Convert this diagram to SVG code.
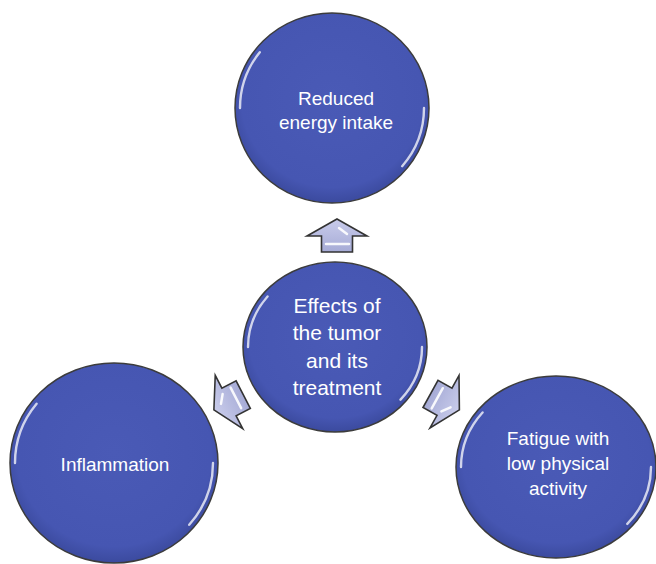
<svg xmlns="http://www.w3.org/2000/svg" width="656" height="564" viewBox="0 0 656 564">
<defs>
<radialGradient id="ballFill" cx="50%" cy="45%" r="55%">
<stop offset="0%" stop-color="#4a5ab6"/>
<stop offset="85%" stop-color="#4656b2"/>
<stop offset="100%" stop-color="#3b4a9e"/>
</radialGradient>
<linearGradient id="arrowFill" x1="0" y1="0" x2="0" y2="1">
<stop offset="0%" stop-color="#c9cceb"/>
<stop offset="100%" stop-color="#a6abd6"/>
</linearGradient>
<path id="arrowShape" d="M0,-17 L30,0 L15.5,0 L15.5,16 L-15.5,16 L-15.5,0 L-30,0 Z"/>
</defs>
<style>
.ball{fill:url(#ballFill);stroke:#3c3c3c;stroke-width:1.5}
.shine{fill:none;stroke:#ffffff;stroke-width:2.4;stroke-opacity:0.75;stroke-dasharray:40 140 38 142;stroke-linecap:round}
.arrow{fill:url(#arrowFill);stroke:#333333;stroke-width:1.6;stroke-linejoin:miter}
.hl{stroke:#ffffff;stroke-width:2.5;stroke-linecap:round;stroke-opacity:0.9}
.lbl{font-family:"Liberation Sans",Arial,sans-serif;font-size:19px;fill:#ffffff;text-anchor:middle}
.lblc{font-family:"Liberation Sans",Arial,sans-serif;font-size:21px;fill:#ffffff;text-anchor:middle}
</style>
<rect width="656" height="564" fill="#ffffff"/>
<g id="connectors">
<g transform="translate(337,236)">
<use href="#arrowShape" class="arrow"/>
<line class="hl" x1="2" y1="-8" x2="10" y2="-2"/>
<line class="hl" x1="-11" y1="8" x2="12" y2="8"/>
</g>
<g transform="translate(229,402) rotate(-117.3)">
<use href="#arrowShape" class="arrow"/>
<line class="hl" x1="2" y1="-8" x2="10" y2="-2"/>
<line class="hl" x1="-11" y1="8" x2="12" y2="8"/>
</g>
<g transform="translate(444.5,401.7) rotate(118.9)">
<use href="#arrowShape" class="arrow"/>
<line class="hl" x1="2" y1="-8" x2="10" y2="-2"/>
<line class="hl" x1="-11" y1="8" x2="12" y2="8"/>
</g>
</g>
<g id="node-reduced">
<ellipse class="ball" cx="332" cy="108" rx="97" ry="95"/>
<ellipse class="shine" cx="332" cy="108" rx="92" ry="90" pathLength="360"/>
<text class="lbl" x="336" y="105">Reduced</text>
<text class="lbl" x="336" y="129">energy intake</text>
</g>
<g id="node-effects">
<ellipse class="ball" cx="335" cy="347" rx="92" ry="85"/>
<ellipse class="shine" cx="335" cy="347" rx="87" ry="80" pathLength="360"/>
<text class="lblc" x="337" y="313">Effects of</text>
<text class="lblc" x="337" y="340">the tumor</text>
<text class="lblc" x="337" y="368">and its</text>
<text class="lblc" x="337" y="395">treatment</text>
</g>
<g id="node-inflammation">
<ellipse class="ball" cx="114" cy="463" rx="104" ry="100"/>
<ellipse class="shine" cx="114" cy="463" rx="99" ry="95" pathLength="360"/>
<text class="lbl" x="115" y="471">Inflammation</text>
</g>
<g id="node-fatigue">
<ellipse class="ball" cx="556" cy="467" rx="100" ry="91"/>
<ellipse class="shine" cx="556" cy="467" rx="95" ry="86" pathLength="360"/>
<text class="lbl" x="558" y="445">Fatigue with</text>
<text class="lbl" x="558" y="470">low physical</text>
<text class="lbl" x="558" y="495">activity</text>
</g>
</svg>
